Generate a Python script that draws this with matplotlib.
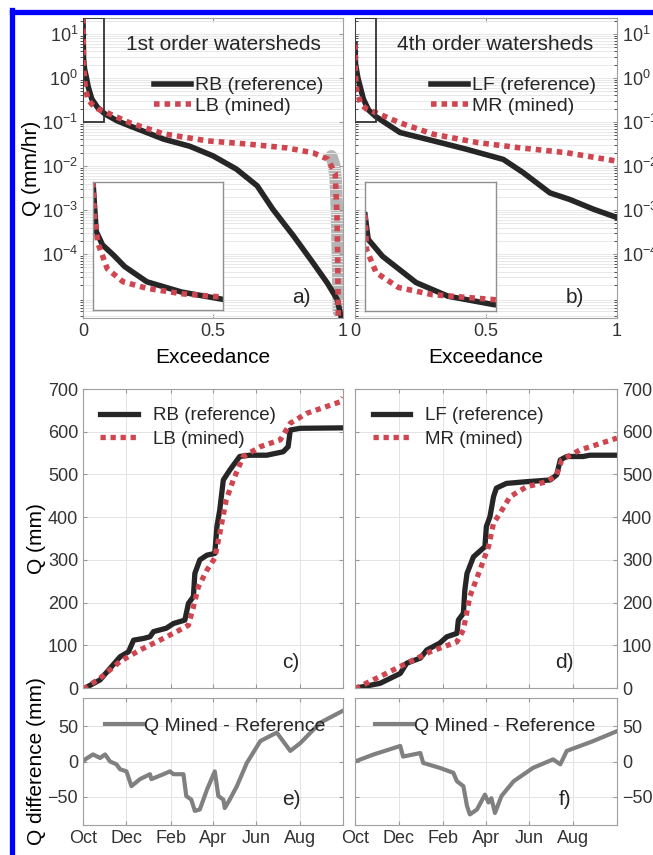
import numpy as np
import matplotlib
matplotlib.use('Agg')
import matplotlib.pyplot as plt
from matplotlib.lines import Line2D
from matplotlib.patches import Rectangle
from matplotlib.ticker import LogLocator, NullFormatter

plt.rcParams['font.family'] = ['Liberation Sans', 'DejaVu Sans']
plt.rcParams['font.size'] = 13
plt.rcParams['text.color'] = '#262626'
plt.rcParams['xtick.color'] = '#333333'
plt.rcParams['ytick.color'] = '#333333'

# flow duration curves (exceedance, log10 Q in mm/hr)
rb_exc = [0, 0.001, 0.002, 0.006, 0.013, 0.02, 0.034, 0.056, 0.085, 0.13, 0.18, 0.25,
          0.31, 0.41, 0.50, 0.59, 0.67, 0.73, 0.81, 0.885, 0.94, 0.977, 0.996]
rb_logq = [1.36, 0.9, 0.45, 0.2, 0.01, -0.2, -0.48, -0.67, -0.82, -0.97, -1.09, -1.25,
           -1.39, -1.55, -1.77, -2.07, -2.45, -2.98, -3.59, -4.2, -4.66, -5.02, -5.5]
lb_exc = [0, 0.0005, 0.001, 0.003, 0.009, 0.019, 0.034, 0.056, 0.085, 0.18, 0.31, 0.48,
          0.63, 0.785, 0.885, 0.94, 0.97, 0.977, 0.98, 0.982]
lb_logq = [1.36, 1.0, 0.73, 0.24, -0.24, -0.48, -0.6, -0.70, -0.77, -1.02, -1.27, -1.43,
           -1.5, -1.59, -1.70, -1.84, -2.16, -3.14, -4.27, -5.5]
lb_gray_exc = [0.955, 0.965, 0.972, 0.977, 0.981, 0.984]
lb_gray_logq = [-1.78, -1.95, -2.3, -3.1, -4.3, -5.3]

lf_exc = [0, 0.002, 0.011, 0.032, 0.052, 0.08, 0.172, 0.30, 0.426, 0.566, 0.642,
          0.744, 0.82, 0.91, 1.0]
lf_logq = [0.76, 0.31, 0.0, -0.48, -0.73, -0.88, -1.24, -1.43, -1.62, -1.85, -2.15,
           -2.61, -2.76, -2.98, -3.17]
mr_exc = [0, 0.0005, 0.001, 0.007, 0.021, 0.042, 0.08, 0.172, 0.30, 0.47, 0.62, 0.81, 1.0]
mr_logq = [0.76, 0.45, 0.12, -0.30, -0.57, -0.70, -0.79, -1.02, -1.28, -1.47, -1.58,
           -1.70, -1.89]

# cumulative Q (mm) vs day of water year
rb_day = [0, 3, 24, 38, 52, 64, 71, 85, 94, 99, 117, 127, 143, 148, 155, 157, 164, 174,
          185, 188, 192, 197, 206, 220, 234, 258, 281, 288, 291, 305, 365]
rb_cum = [0, 0, 19, 46, 73, 85, 112, 116, 120, 132, 140, 151, 159, 198, 214, 268, 300,
          311, 315, 378, 417, 487, 510, 542, 545, 545, 553, 565, 604, 608, 609]
lb_day = [0, 3, 24, 52, 80, 108, 136, 148, 155, 162, 174, 185, 192, 201, 211, 225, 249,
          277, 291, 314, 361, 365]
lb_cum = [0, 0, 23, 62, 89, 112, 136, 147, 190, 237, 276, 304, 362, 440, 487, 542, 565,
          581, 620, 643, 670, 680]
lf_day = [0, 2, 35, 63, 72, 91, 100, 118, 128, 142, 144, 151, 153, 156, 165, 181, 183,
          188, 193, 197, 211, 239, 272, 281, 286, 295, 318, 327, 365]
lf_cum = [0, 0, 11, 34, 58, 70, 89, 105, 120, 128, 159, 175, 229, 268, 307, 331, 378,
          401, 448, 468, 479, 483, 487, 499, 534, 542, 542, 545, 545]
mr_day = [0, 2, 35, 72, 105, 142, 151, 160, 174, 186, 193, 202, 216, 239, 267, 281, 288,
          313, 365]
mr_cum = [0, 0, 27, 58, 85, 108, 136, 214, 276, 331, 386, 409, 448, 471, 483, 499, 534,
          557, 585]

# mined - reference difference (mm)
e_day = [0, 3, 14, 24, 31, 38, 47, 52, 61, 68, 80, 94, 96, 113, 122, 127, 141, 145, 152,
         157, 164, 174, 185, 190, 197, 199, 206, 216, 230, 249, 272, 291, 305, 333, 365]
e_diff = [0, 3, 10, 5, 10, 0, -4, -11, -14, -35, -25, -18, -25, -18, -14, -18, -18, -49,
          -54, -70, -68, -40, -14, -49, -54, -66, -54, -35, -2, 29, 41, 15, 26, 55, 72]
f_day = [0, 26, 63, 67, 91, 95, 118, 137, 142, 151, 156, 160, 170, 181, 186, 190, 195,
         204, 221, 248, 276, 286, 295, 332, 365]
f_diff = [0, 10, 22, 7, 12, -2, -9, -16, -28, -35, -63, -75, -68, -47, -58, -52, -73,
          -49, -28, -9, 3, -4, 15, 29, 43]

month_pos = [0, 61, 123, 182, 243, 304, 365]
month_lab = ['Oct', 'Dec', 'Feb', 'Apr', 'Jun', 'Aug', '']

black = '#262626'
red = '#cf4550'
gray = '#808080'
spine = '#a0a0a0'

W, H = 653, 855
fig = plt.figure(figsize=(W / 100, H / 100), dpi=100)


def box(x0, x1, y0, y1):
    return [x0 / W, 1 - y1 / H, (x1 - x0) / W, (y1 - y0) / H]


def style(ax):
    for s in ax.spines.values():
        s.set_color(spine)
        s.set_linewidth(0.8)
    ax.tick_params(direction='in', length=3, color='#999999', top=True, right=True,
                   labelsize=13)


ylo, yhi = 10 ** -5.45, 10 ** 1.36
fdc = [
    (box(83, 343, 18, 318), box(93, 223, 182, 310), rb_exc, rb_logq, lb_exc, lb_logq,
     'RB (reference)', 'LB (mined)', '1st order watersheds', 'a)', False, 0.54, 0.245),
    (box(355, 617, 18, 318), box(365, 496, 182, 311), lf_exc, lf_logq, mr_exc, mr_logq,
     'LF (reference)', 'MR (mined)', '4th order watersheds', 'b)', True, 0.534, 0.262),
]
for rect, irect, bx, by, rx, ry, lb1, lb2, title, tag, right, tx, lx in fdc:
    ax = fig.add_axes(rect)
    style(ax)
    ax.set_yscale('log')
    if tag == 'a)':
        ax.plot(lb_gray_exc, 10 ** np.array(lb_gray_logq), color='#b5b5b5', lw=9,
                solid_capstyle='round', zorder=1)
    ax.plot(bx, 10 ** np.array(by), color=black, lw=4, label=lb1, zorder=2)
    ax.plot(rx, 10 ** np.array(ry), color=red, lw=4, ls=(0, (1, 0.9)), label=lb2, zorder=3)
    ax.set_xlim(0, 1)
    ax.set_ylim(ylo, yhi)
    ax.set_yticks([1e-4, 1e-3, 1e-2, 1e-1, 1, 10])
    ax.yaxis.set_minor_locator(LogLocator(base=10, subs=np.arange(2, 10), numticks=20))
    ax.yaxis.set_minor_formatter(NullFormatter())
    ax.grid(which='both', axis='y', color='#e8e8e8', lw=0.7)
    ax.set_xticks([0, 0.5, 1])
    ax.set_xticklabels(['0', '0.5', '1'])
    ax.set_xlabel('Exceedance', fontsize=15, labelpad=6)
    if right:
        ax.yaxis.tick_right()
        ax.tick_params(left=True, which='both', direction='in')
    else:
        ax.set_ylabel('Q (mm/hr)', fontsize=15, labelpad=1)
    ax.add_patch(Rectangle((0, 0.1), 0.082, yhi - 0.1, fill=False, ec='#333333', lw=1.3,
                           zorder=4))
    ax.text(tx, 0.913, title, transform=ax.transAxes, ha='center', va='center',
            fontsize=15)
    ax.legend(loc='upper left', bbox_to_anchor=(lx, 0.83), frameon=False, fontsize=14,
              handlelength=1.9, borderaxespad=0, labelspacing=0.15, handletextpad=0.2)
    ax.text(0.84, 0.07, tag, transform=ax.transAxes, ha='center', va='center', fontsize=15)

    ins = fig.add_axes(irect)
    ins.set_facecolor('white')
    ins.set_yscale('log')
    ins.plot(bx, 10 ** np.array(by), color=black, lw=4)
    ins.plot(rx, 10 ** np.array(ry), color=red, lw=4, ls=(0, (1, 0.9)))
    ins.set_xlim(0, 0.082)
    ins.set_ylim(0.1, yhi)
    ins.set_xticks([])
    ins.set_yticks([])
    ins.minorticks_off()
    for s in ins.spines.values():
        s.set_color('#909090')
        s.set_linewidth(1)

cum = [
    (box(83, 343, 389, 688), box(83, 343, 698, 825), rb_day, rb_cum, lb_day, lb_cum,
     'RB (reference)', 'LB (mined)', e_day, e_diff, 'c)', 'e)', False, 0.037, 0.055),
    (box(355, 617, 389, 688), box(355, 617, 698, 825), lf_day, lf_cum, mr_day, mr_cum,
     'LF (reference)', 'MR (mined)', f_day, f_diff, 'd)', 'f)', True, 0.04, 0.047),
]
for rc, rd, bx, by, rx, ry, lb1, lb2, dx, dy, tag1, tag2, right, lx1, lx2 in cum:
    ax = fig.add_axes(rc)
    style(ax)
    ax.plot(bx, by, color=black, lw=3.8, label=lb1)
    ax.plot(rx, ry, color=red, lw=3.8, ls=(0, (1, 0.9)), label=lb2)
    ax.set_xlim(0, 365)
    ax.set_ylim(0, 700)
    ax.set_xticks(month_pos)
    ax.set_xticklabels([])
    ax.set_yticks(range(0, 701, 100))
    ax.grid(color='#e3e3e3', lw=0.7)
    ax.legend(loc='upper left', bbox_to_anchor=(lx1, 0.965), frameon=False, fontsize=13.5,
              handlelength=2.0, borderaxespad=0, labelspacing=0.35, handletextpad=0.8)
    ax.text(0.8, 0.085, tag1, transform=ax.transAxes, ha='center', va='center', fontsize=15)

    ax2 = fig.add_axes(rd)
    style(ax2)
    ax2.plot(dx, dy, color=gray, lw=3, label='Q Mined - Reference')
    ax2.set_xlim(0, 365)
    ax2.set_ylim(-90, 90)
    ax2.set_xticks(month_pos)
    ax2.set_xticklabels(month_lab)
    ax2.set_yticks([-50, 0, 50])
    ax2.grid(color='#e3e3e3', lw=0.7)
    ax2.legend(loc='upper left', bbox_to_anchor=(lx2, 0.91), frameon=False, fontsize=14,
               handlelength=1.95, borderaxespad=0, handletextpad=0.05)
    ax2.text(0.8, 0.2, tag2, transform=ax2.transAxes, ha='center', va='center', fontsize=15)
    if right:
        ax.yaxis.tick_right()
        ax2.yaxis.tick_right()
        ax.tick_params(left=True, direction='in')
        ax2.tick_params(left=True, direction='in')
    else:
        ax.set_ylabel('Q (mm)', fontsize=15, labelpad=1)
        ax2.set_ylabel('Q difference (mm)', fontsize=15, labelpad=1)

# blue frame on top and left edge
fig.add_artist(Line2D([12.5 / W, 1.0], [1 - 12.5 / H, 1 - 12.5 / H], color='#0000ff', lw=3.8))
fig.add_artist(Line2D([12.5 / W, 12.5 / W], [0, 1 - 10 / H], color='#0000ff', lw=3.8))

fig.savefig('out.png', dpi=100)
